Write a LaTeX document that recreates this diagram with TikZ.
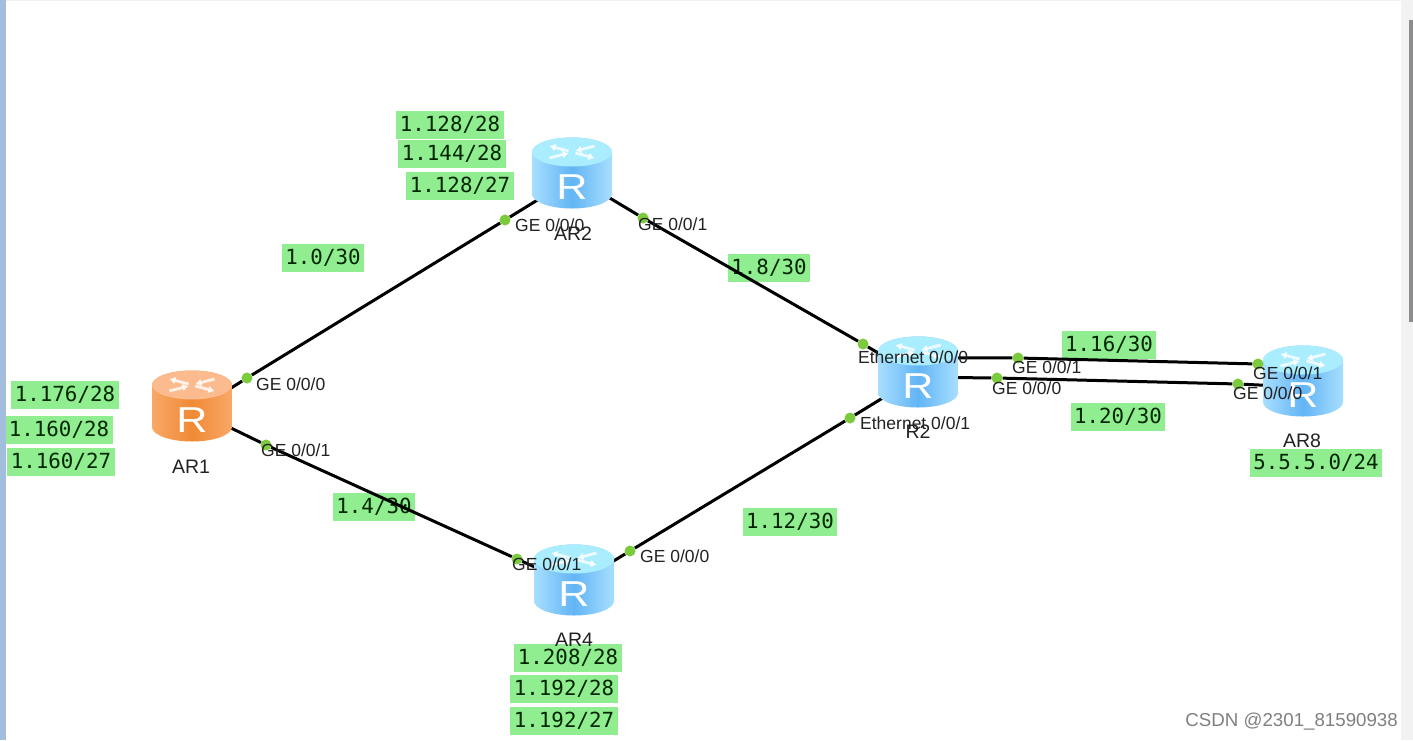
\documentclass[tikz,border=0pt]{standalone}
\usepackage{fontspec}
\setmainfont{Liberation Sans}
\newfontfamily\ipfont{DejaVu Sans Mono}
\usetikzlibrary{arrows.meta,shapes.geometric,backgrounds}
\definecolor{BlueSide}{HTML}{A8DEFF}
\definecolor{BlueMid}{HTML}{62B5F5}
\definecolor{BlueTop}{HTML}{A9EDFF}
\definecolor{OrangeSide}{HTML}{F9A868}
\definecolor{OrangeMid}{HTML}{F08A35}
\definecolor{OrangeTop}{HTML}{FCBB8E}
\definecolor{SubnetGreen}{HTML}{90EE90}
\definecolor{PortGreen}{HTML}{7CCB3C}
\definecolor{LabelInk}{HTML}{222222}
\definecolor{BarBlue}{HTML}{A3BEDD}
\begin{document}
\begin{tikzpicture}[x=1pt,y=-1pt,
  router/.style={ellipse,draw=none,minimum width=80pt,minimum height=71pt,inner sep=0pt},
  topmark/.style={white,opacity=.8,line width=2.8pt},
  rletter/.style={text=white,font=\fontsize{36}{36}\selectfont,inner sep=0pt,xscale=1.2,transform shape},
  link/.style={line width=3pt,black},
  portdot/.style={circle,fill=PortGreen,inner sep=0pt,minimum size=11pt},
  subnet/.style={fill=SubnetGreen,text=black!85!green,inner xsep=3.5pt,inner ysep=0pt,
    minimum height=28pt,font=\ipfont\fontsize{20.8}{24}\selectfont},
  portlab/.style={anchor=west,inner sep=0pt,text=LabelInk,font=\fontsize{17.5}{20}\selectfont},
  devname/.style={inner sep=0pt,text=LabelInk,font=\fontsize{19.5}{22}\selectfont}]
  \useasboundingbox (0,0) rectangle (1413,740);
  % window edges and scrollbar
  \fill[black!6] (0,0) rectangle (1413,1);
  \fill[black!5] (1401,0) rectangle (1413,740);
  \fill[black!45] (1409,20) rectangle (1413,322);
  \fill[BarBlue] (0,0) rectangle (6,740);
  % routers with their top arrows and letter
  \foreach \name/\x/\y/\side/\mid/\top in {AR1/192/406/OrangeSide/OrangeMid/OrangeTop,
      AR2/572/173/BlueSide/BlueMid/BlueTop,AR4/574/580/BlueSide/BlueMid/BlueTop,
      R2/918/372/BlueSide/BlueMid/BlueTop,AR8/1303/381/BlueSide/BlueMid/BlueTop}{
    \node[router] (\name) at (\x,\y) {};
    \shade[left color=\side,right color=\side,middle color=\mid]
      (\x-40,\y-21) -- (\x-40,\y+21) arc (180:0:40 and 14.5) -- (\x+40,\y-21)
      arc (0:-180:40 and 14.5) -- cycle;
    \fill[\top] (\x,\y-21) ellipse (40 and 14.5);
    \foreach \a/\tip in {30/->,150/<-,210/->,330/<-}
      \draw[topmark,\tip,>={Latex[length=6pt,width=8pt]}]
        (\x,\y-21) ++({4*cos(\a)},{2*sin(\a)}) -- ++({22*cos(\a)},{10*sin(\a)});
    \node[rletter] (\name r) at (\x,\y+14) {R};
  }
  % port markers
  \foreach \p/\x/\y in {aa/247/378,ab/505/220,ba/643/218,bb/863/344,ca/266/445,cb/517/559,
      da/630/551,db/850/418,ea/1018/358,eb/1258/364,fa/997/378,fb/1238/384}{
    \node[portdot] (\p) at (\x,\y) {};
  }
  \begin{scope}[on background layer]
    \fill[white] (6,1) rectangle (1401,740);
    % address blocks sit under the links
    \foreach \n/\x/\y/\ip in {s1/450/125/{1.128/28},s2/452/154/{1.144/28},s3/460/186/{1.128/27},
        s4/323/258/{1.0/30},s5/769/268/{1.8/30},s6/1109/345/{1.16/30},s7/1118/417/{1.20/30},
        s8/1316/463/{5.5.5.0/24},s9/790/522/{1.12/30},s10/374/507/{1.4/30},s11/65/395/{1.176/28},
        s12/59/430/{1.160/28},s13/61/462/{1.160/27},s14/568/658/{1.208/28},s15/564/689/{1.192/28},
        s16/564/721/{1.192/27}}{
      \node[subnet] (\n) at (\x,\y) {\ip};
    }
    \draw[link] (AR1.24) -- (aa) -- (ab) -- (AR2.219);
    \draw[link] (AR2.-34) -- (ba) -- (bb) -- (R2.155);
    \draw[link] (AR1.-30) -- (ca) -- (cb) -- (AR4.162);
    \draw[link] (AR4.25) -- (da) -- (db) -- (R2.217);
    \draw[link] (R2.21) -- (ea) -- (eb) -- (AR8.154);
    \draw[link] (R2.-8) -- (fa) -- (fb) -- (AR8.186);
  \end{scope}
  % interface names
  \foreach \n/\x/\y/\txt in {la/256/384/{GE 0/0/0},lb/261/450/{GE 0/0/1},lc/515/225/{GE 0/0/0},
      ld/638/224/{GE 0/0/1},le/512/564/{GE 0/0/1},lf/640/556/{GE 0/0/0},lg/858/357/{Ethernet 0/0/0},
      lh/860/423/{Ethernet 0/0/1},li/1012/367/{GE 0/0/1},lj/992/388/{GE 0/0/0},
      lk/1253/373/{GE 0/0/1},ll/1233/393/{GE 0/0/0}}{
    \node[portlab] (\n) at (\x,\y) {\txt};
  }
  \node[devname] (nAR1) at (191,467) {AR1};
  \node[devname] (nAR2) at (573,234) {AR2};
  \node[devname] (nAR4) at (574,640) {AR4};
  \node[devname] (nR2) at (918,432) {R2};
  \node[devname] (nAR8) at (1302,441) {AR8};
  \node[anchor=east,inner sep=0pt,text=black!50,font=\fontsize{18.7}{20}\selectfont] (mark) at (1398,722) {CSDN @2301\_81590938};
\end{tikzpicture}
\end{document}
